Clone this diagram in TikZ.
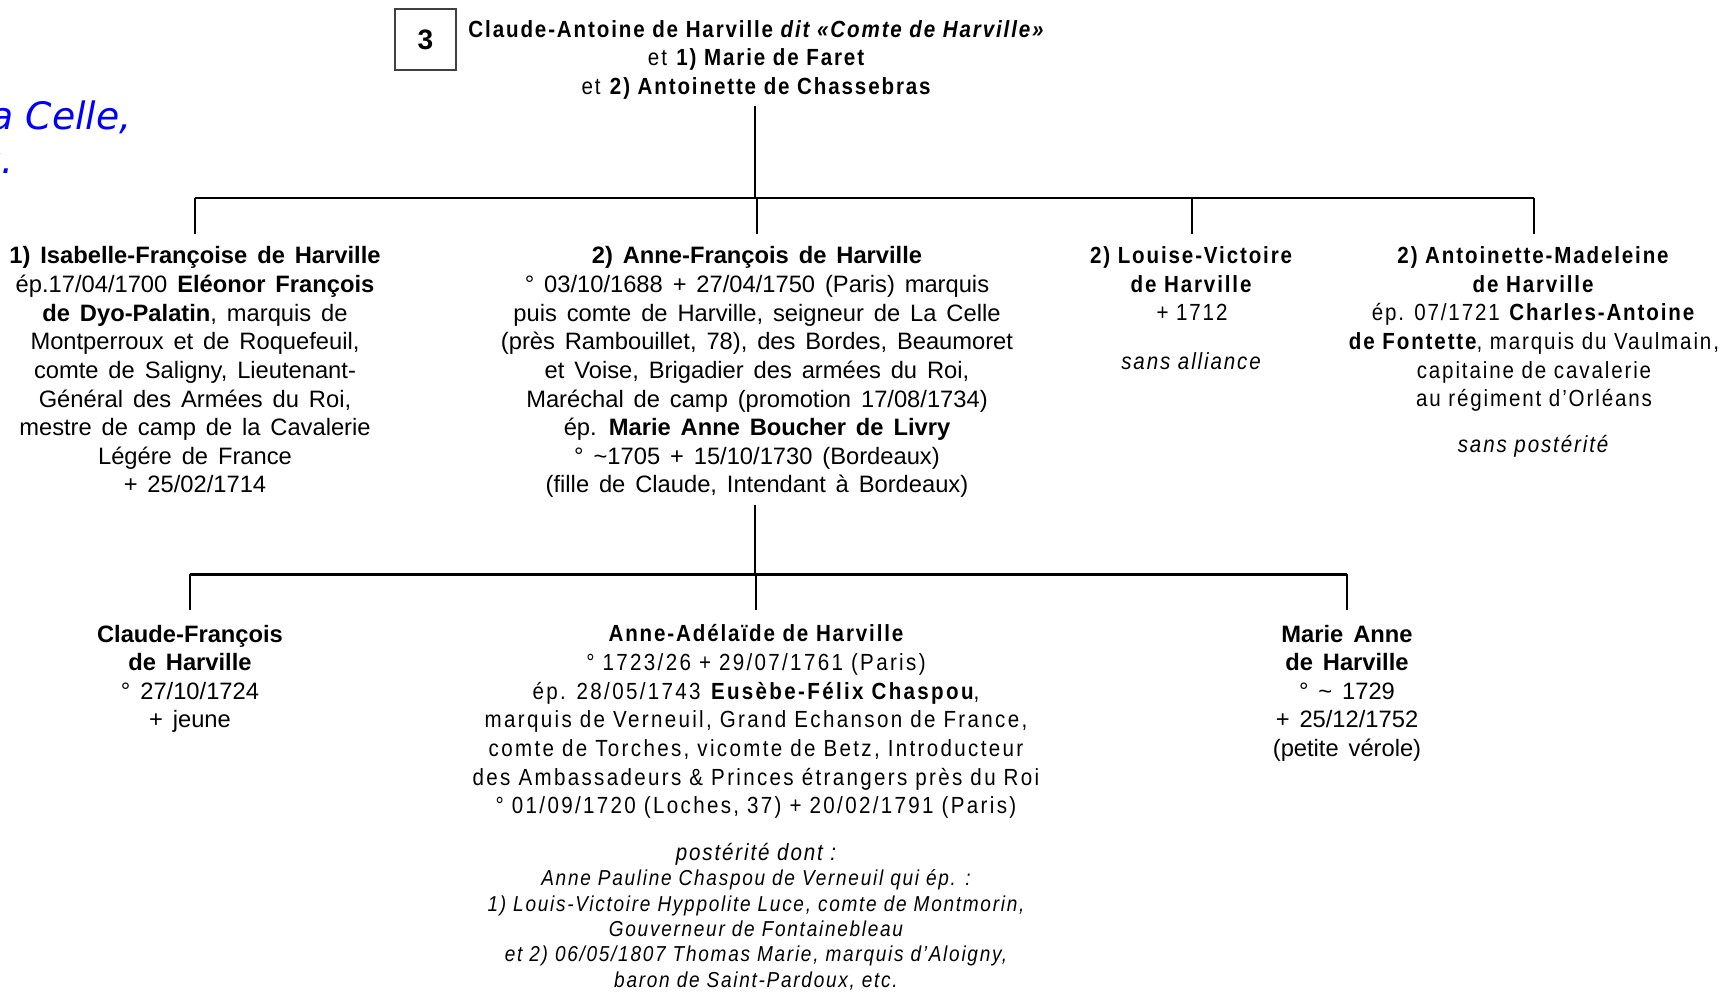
\documentclass[tikz,border=0pt]{standalone}
\usepackage{fontspec}
\setmainfont[WordSpace=1.5]{Liberation Sans}
\newfontfamily\narrow[FakeStretch=0.88, LetterSpace=8]{Liberation Sans}
\newfontfamily\narrowwide[FakeStretch=0.88, LetterSpace=10]{Liberation Sans}
\newfontfamily\bluefont{DejaVu Sans}
\tikzset{
  person/.style={align=center, anchor=north, inner xsep=0pt, inner ysep=0.246cm,
    font=\fontsize{13.5}{16.3}\selectfont},
  thin/.style={font=\narrow\fontsize{13.3}{16.3}\selectfont},
  notes/.style={align=center, anchor=north, inner sep=0pt,
    font=\narrow\itshape\fontsize{12.3}{14.4}\selectfont},
  side/.style={anchor=base east, inner sep=0pt, text=blue,
    font=\bluefont\itshape\fontsize{21.5}{25}\selectfont},
  bar/.style={line width=1.7pt},
  drop/.style={line width=1.1pt}
}
\begin{document}
\begin{tikzpicture}[x=0.02cm, y=-0.02cm]
    \useasboundingbox (0,0) rectangle (1731,994);
    \clip (0,0) rectangle (1731,994);

    % Текст соседнего слайда (обрезан)
    \node[side] (side1) at (132,129) {La Celle,};
    \node[side] (side2) at (14,173) {etc.};

    % Номер и родители
    \node[draw=black!75, line width=0.7pt, minimum size=1.22cm, inner sep=0pt, font=\bfseries\fontsize{16}{18}\selectfont] (num) at (425.5,39.5) {3};
    \node[person, thin, inner ysep=0.13cm] (top) at (757,13.5)
        {\textbf{Claude-Antoine de Harville \textit{dit «Comte de Harville»}}\\
         et \textbf{1) Marie de Faret}\\
         et \textbf{2) Antoinette de Chassebras}};

    % Дети
    \node[person] (c1) at (195,234)
        {\textbf{1) Isabelle-Françoise de Harville}\\
         ép.17/04/1700 \textbf{Eléonor François}\\
         \textbf{de Dyo-Palatin}, marquis de\\
         Montperroux et de Roquefeuil,\\
         comte de Saligny, Lieutenant-\\
         Général des Armées du Roi,\\
         mestre de camp de la Cavalerie\\
         Légére de France\\
         + 25/02/1714};
    \node[person] (c2) at (757,234)
        {\textbf{2) Anne-François de Harville}\\
         ° 03/10/1688 + 27/04/1750 (Paris) marquis\\
         puis comte de Harville, seigneur de La Celle\\
         (près Rambouillet, 78), des Bordes, Beaumoret\\
         et Voise, Brigadier des armées du Roi,\\
         Maréchal de camp (promotion 17/08/1734)\\
         ép. \textbf{Marie Anne Boucher de Livry}\\
         ° \textasciitilde1705 + 15/10/1730 (Bordeaux)\\
         (fille de Claude, Intendant à Bordeaux)};
    \node[person, thin] (c3) at (1192,234)
        {\textbf{2) Louise-Victoire}\\
         \textbf{de Harville}\\
         + 1712\\[0.4cm]
         \textit{sans alliance}};
    \node[person, thin] (c4) at (1534,234)
        {\textbf{2) Antoinette-Madeleine}\\
         \textbf{de Harville}\\
         ép. 07/1721 \textbf{Charles-Antoine}\\
         \textbf{de Fontette}, marquis du Vaulmain,\\
         capitaine de cavalerie\\
         au régiment d’Orléans\\[0.35cm]
         \textit{sans postérité}};

    % Внуки
    \node[person, inner ysep=0.29cm] (g1) at (190,610)
        {\textbf{Claude-François}\\
         \textbf{de Harville}\\
         ° 27/10/1724\\
         + jeune};
    \node[person, inner ysep=0.29cm, font=\narrowwide\fontsize{13.3}{16.3}\selectfont] (g2) at (756,610)
        {{\narrow\bfseries Anne-Adélaïde de Harville}\\
         ° 1723/26 + 29/07/1761 (Paris)\\
         ép. 28/05/1743 \textbf{Eusèbe-Félix Chaspou},\\
         marquis de Verneuil, Grand Echanson de France,\\
         comte de Torches, vicomte de Betz, Introducteur\\
         des Ambassadeurs \& Princes étrangers près du Roi\\
         ° 01/09/1720 (Loches, 37) + 20/02/1791 (Paris)};
    \node[person, inner ysep=0.29cm] (g3) at (1347,610)
        {\textbf{Marie Anne}\\
         \textbf{de Harville}\\
         ° \textasciitilde{} 1729\\
         + 25/12/1752\\
         (petite vérole)};
    \node[notes] (post) at (756,843)
        {{\fontsize{13.3}{14.4}\selectfont postérité dont :}\\
         Anne Pauline Chaspou de Verneuil qui ép. :\\
         1) Louis-Victoire Hyppolite Luce, comte de Montmorin,\\
         Gouverneur de Fontainebleau\\
         et 2) 06/05/1807 Thomas Marie, marquis d’Aloigny,\\
         baron de Saint-Pardoux, etc.};

    % Линии родства
    \coordinate (bar1) at (755,198);
    \coordinate (bar2) at (755,574);
    \draw[drop] (top.south -| bar1) -- (bar1);
    \draw[bar] (c1.north |- bar1) -- (c4.north |- bar1);
    \foreach \k in {c1,c2,c3,c4}
        \draw[drop] (\k.north |- bar1) -- (\k.north);
    \draw[drop, shorten <=-0.12cm] (c2.south -| bar2) -- (bar2);
    \draw[bar] (g1.north |- bar2) -- (g3.north |- bar2);
    \foreach \k in {g1,g2,g3}
        \draw[drop] (\k.north |- bar2) -- (\k.north);
\end{tikzpicture}
\end{document}
